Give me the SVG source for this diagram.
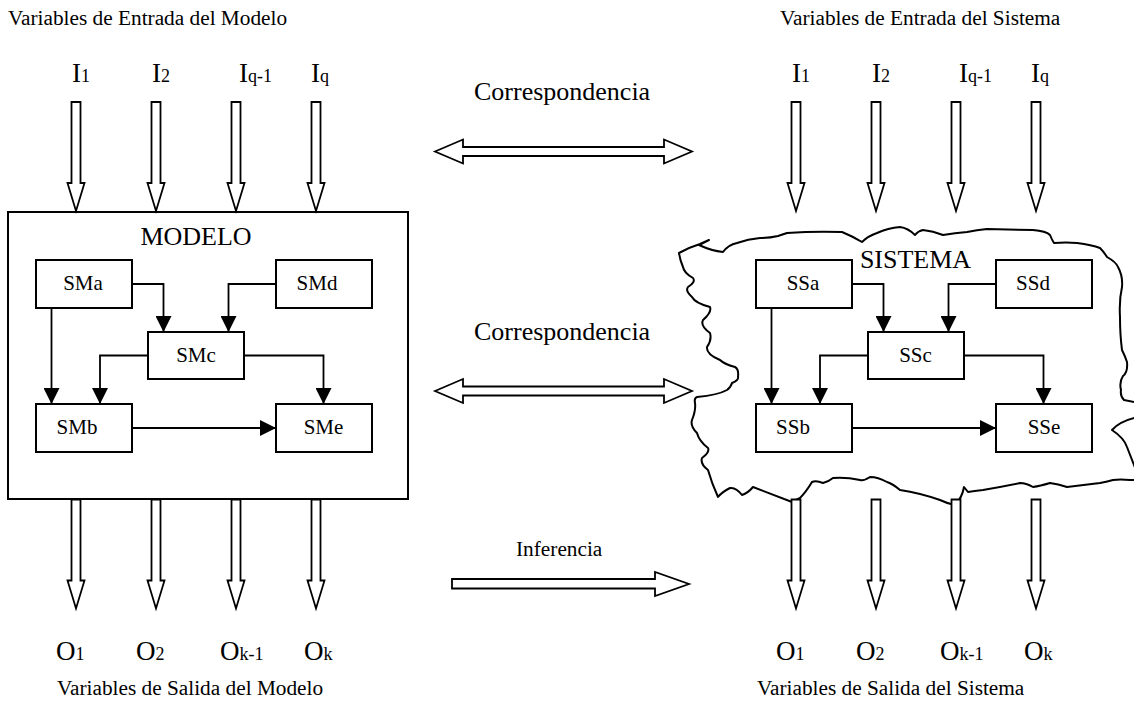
<svg xmlns="http://www.w3.org/2000/svg" width="1134" height="704" viewBox="0 0 1134 704">
<style>
text{font-family:"Liberation Serif","Times New Roman",serif;fill:#000}
.t{font-size:21.3px}
.big{font-size:26px}
.lab{font-size:21px;text-anchor:middle}
.io{font-size:27px}
.sub{font-size:18px}
.box{fill:#fff;stroke:#000;stroke-width:2}
.hol{fill:#fff;stroke:#000;stroke-width:1.8;stroke-linejoin:miter}
.con{fill:none;stroke:#000;stroke-width:1.8}
.cloud{fill:#fff;stroke:#000;stroke-width:2;stroke-linejoin:round}
</style>
<defs>
<marker id="ah" markerUnits="userSpaceOnUse" markerWidth="16" markerHeight="16" viewBox="0 0 16 16" refX="16" refY="8" orient="auto">
<path d="M0,0 L16,8 L0,16 Z" fill="#000"/>
</marker>
<path id="va" class="hol" d="M-4.5,0 H4.5 V81 H8.5 L0,109 L-8.5,81 H-4.5 Z"/>
<path id="dbl" class="hol" d="M435,151.5 L463,139.5 V147 H664 V139.5 L692,151.5 L664,163.5 V156 H463 V163.5 Z"/>
</defs>
<rect width="1134" height="704" fill="#fff"/>

<g id="titles">
<text class="t" x="8" y="25">Variables de Entrada del Modelo</text>
<text class="t" x="780" y="25">Variables de Entrada del Sistema</text>
<text class="t" x="57" y="695">Variables de Salida del Modelo</text>
<text class="t" x="757" y="695">Variables de Salida del Sistema</text>
</g>

<g id="input-labels">
<text class="io" x="72" y="82">I<tspan class="sub">1</tspan></text>
<text class="io" x="152" y="82">I<tspan class="sub">2</tspan></text>
<text class="io" x="239" y="82">I<tspan class="sub">q-1</tspan></text>
<text class="io" x="311" y="82">I<tspan class="sub">q</tspan></text>
<text class="io" x="792" y="82">I<tspan class="sub">1</tspan></text>
<text class="io" x="872" y="82">I<tspan class="sub">2</tspan></text>
<text class="io" x="959" y="82">I<tspan class="sub">q-1</tspan></text>
<text class="io" x="1031" y="82">I<tspan class="sub">q</tspan></text>
</g>

<g id="output-labels">
<text class="io" x="56" y="660">O<tspan class="sub">1</tspan></text>
<text class="io" x="136" y="660">O<tspan class="sub">2</tspan></text>
<text class="io" x="220" y="660">O<tspan class="sub">k-1</tspan></text>
<text class="io" x="304" y="660">O<tspan class="sub">k</tspan></text>
<text class="io" x="776" y="660">O<tspan class="sub">1</tspan></text>
<text class="io" x="856" y="660">O<tspan class="sub">2</tspan></text>
<text class="io" x="940" y="660">O<tspan class="sub">k-1</tspan></text>
<text class="io" x="1024" y="660">O<tspan class="sub">k</tspan></text>
</g>

<g id="modelo">
<rect class="box" x="8" y="212" width="400" height="287"/>
<text class="big" x="196" y="245" text-anchor="middle">MODELO</text>
</g>

<g id="sistema">
<path class="cloud" d="M679,253 Q690,247 700,244 L709,240 L699,245 Q712,251 723,252 Q728,245 737,243 Q748,239 760,238 Q770,238 778,236 L787,233 Q815,231 842,232 Q852,236 862,242 Q868,236 877,233 Q888,228 900,227 Q908,228 915,235 Q918,231 923,230 Q933,231 943,235 Q955,233 967,232 Q977,230 987,229 L1033,230 Q1046,231 1050,235 Q1052,240 1054,243 Q1066,242 1077,243 Q1092,245 1100,248 Q1104,252 1107,257 Q1116,262 1118,267 Q1123,276 1122,287 Q1119,300 1120,317 Q1120,335 1122,350 Q1125,356 1127,362 Q1128,372 1123,376 Q1119,382 1121,390 Q1120,396 1124,400 L1145,404 L1145,416 Q1122,419 1112,430 Q1124,438 1127,447 Q1132,460 1138,475 L1145,480 L1130,480 Q1120,479 1113,480 Q1106,482 1100,483 L1067,487 Q1058,484 1050,483 Q1040,486 1033,487 Q1026,483 1020,483 Q1000,487 983,490 Q974,491 968,492 L964,487 Q962,498 955,505 Q946,503 940,500 Q920,493 900,490 Q893,484 887,482 Q878,477 870,477 Q864,481 860,480 Q846,477 833,478 Q828,482 823,483 Q816,480 812,482 Q806,492 800,498 L792,502 L753,487 Q748,493 742,495 Q736,487 730,488 Q722,492 718,497 Q712,484 708,470 Q700,464 702,458 Q710,452 708,448 Q699,441 697,433 Q690,426 692,420 Q696,410 695,403 Q694,398 697,397 Q718,395 727,390 Q731,387 732,383 Q739,380 738,377 Q739,369 735,367 Q724,364 720,360 Q706,354 707,347 Q712,340 710,333 Q700,326 703,320 Q712,312 710,307 Q695,303 692,297 Q685,291 688,287 Q696,282 693,278 Q684,273 683,267 Q680,260 679,253 Z"/>
<text class="big" x="915.5" y="268" text-anchor="middle">SISTEMA</text>
</g>

<g id="big-arrows">
<use href="#va" x="76" y="102"/>
<use href="#va" x="156" y="102"/>
<use href="#va" x="236" y="102"/>
<use href="#va" x="316" y="102"/>
<use href="#va" x="796" y="102"/>
<use href="#va" x="876" y="102"/>
<use href="#va" x="956" y="102"/>
<use href="#va" x="1036" y="102"/>
<use href="#va" x="76" y="499.5"/>
<use href="#va" x="156" y="499.5"/>
<use href="#va" x="236" y="499.5"/>
<use href="#va" x="316" y="499.5"/>
<use href="#va" x="796" y="499.5"/>
<use href="#va" x="876" y="499.5"/>
<use href="#va" x="956" y="499.5"/>
<use href="#va" x="1036" y="499.5"/>
<use href="#dbl"/>
<use href="#dbl" y="239.5"/>
<path class="hol" d="M452,579 H655 V572 L689,584 L655,596 V588.5 H452 Z"/>
<text class="big" x="474" y="100">Correspondencia</text>
<text class="big" x="474" y="340">Correspondencia</text>
<text class="t" x="516" y="556">Inferencia</text>
</g>

<g id="SMa"><rect class="box" x="36" y="260" width="96" height="48"/><text class="lab" x="83" y="290">SMa</text></g>
<g id="SMd"><rect class="box" x="276" y="260" width="96" height="48"/><text class="lab" x="317" y="290">SMd</text></g>
<g id="SMc"><rect class="box" x="148" y="332" width="96" height="47"/><text class="lab" x="196" y="362">SMc</text></g>
<g id="SMb"><rect class="box" x="36" y="404" width="96" height="48"/><text class="lab" x="77" y="434">SMb</text></g>
<g id="SMe"><rect class="box" x="276" y="404" width="96" height="48"/><text class="lab" x="323.5" y="434">SMe</text></g>

<g id="SSa"><rect class="box" x="756" y="260" width="96" height="48"/><text class="lab" x="803" y="290">SSa</text></g>
<g id="SSd"><rect class="box" x="996" y="260" width="96" height="48"/><text class="lab" x="1033" y="290">SSd</text></g>
<g id="SSc"><rect class="box" x="868" y="332" width="96" height="47"/><text class="lab" x="915.5" y="362">SSc</text></g>
<g id="SSb"><rect class="box" x="756" y="404" width="96" height="48"/><text class="lab" x="793" y="434">SSb</text></g>
<g id="SSe"><rect class="box" x="996" y="404" width="96" height="48"/><text class="lab" x="1044" y="434">SSe</text></g>

<g id="connectors">
<path class="con" marker-end="url(#ah)" d="M132,284 H163.5 V332"/>
<path class="con" marker-end="url(#ah)" d="M276,284 H228.5 V332"/>
<path class="con" marker-end="url(#ah)" d="M148,355.5 H100 V404"/>
<path class="con" marker-end="url(#ah)" d="M244,355.5 H323.5 V404"/>
<path class="con" marker-end="url(#ah)" d="M51.5,308 V404"/>
<path class="con" marker-end="url(#ah)" d="M132,428 H276"/>
<path class="con" marker-end="url(#ah)" d="M852,284 H883.5 V332"/>
<path class="con" marker-end="url(#ah)" d="M996,284 H948.5 V332"/>
<path class="con" marker-end="url(#ah)" d="M868,355.5 H820 V404"/>
<path class="con" marker-end="url(#ah)" d="M964,355.5 H1043.5 V404"/>
<path class="con" marker-end="url(#ah)" d="M771.5,308 V404"/>
<path class="con" marker-end="url(#ah)" d="M852,428 H996"/>
</g>
</svg>
